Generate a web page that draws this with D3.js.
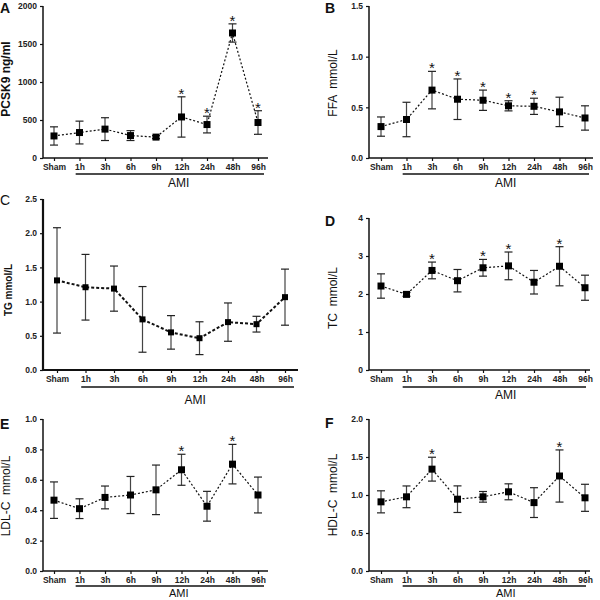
<!DOCTYPE html>
<html><head><meta charset="utf-8">
<script src="https://cdn.jsdelivr.net/npm/d3@7"></script>
<style>body{margin:0;background:#fff}svg{display:block}text{font-family:"Liberation Sans",Arial,sans-serif;white-space:pre}</style>
</head><body>
<svg id="c" width="600" height="600"></svg>
<script>
const categories = ["Sham","1h","3h","6h","9h","12h","24h","48h","96h"];
const groupLabel = "AMI";

const pcsk9Mean = [290,335,380,295,275,540,440,1645,467];
const pcsk9Err  = [120,150,150,65,20,265,110,120,155];
const pcsk9Stars = ["12h","24h","48h","96h"];
const pcsk9Ticks = [0,500,1000,1500,2000];

const ffaMean = [0.31,0.38,0.67,0.58,0.57,0.515,0.51,0.455,0.395];
const ffaErr  = [0.095,0.17,0.185,0.2,0.1,0.05,0.08,0.145,0.12];
const ffaStars = ["3h","6h","9h","12h","24h"];
const ffaTicks = [0,0.5,1.0,1.5];

const tgMean = [1.31,1.21,1.19,0.74,0.55,0.465,0.70,0.67,1.065];
const tgErr  = [0.77,0.48,0.33,0.48,0.245,0.24,0.28,0.115,0.41];
const tgStars = [];
const tgTicks = [0,0.5,1.0,1.5,2.0,2.5];

const tcMean = [2.21,1.99,2.62,2.35,2.69,2.74,2.31,2.73,2.165];
const tcErr  = [0.32,0.05,0.22,0.295,0.22,0.365,0.31,0.515,0.33];
const tcStars = ["3h","9h","12h","48h"];
const tcTicks = [0,1,2,3,4];

const ldlMean = [0.466,0.41,0.484,0.50,0.534,0.666,0.426,0.703,0.50];
const ldlErr  = [0.12,0.065,0.075,0.122,0.163,0.102,0.098,0.13,0.118];
const ldlStars = ["12h","48h"];
const ldlTicks = [0,0.2,0.4,0.6,0.8,1.0];

const hdlMean = [0.91,0.976,1.34,0.945,0.976,1.042,0.90,1.25,0.963];
const hdlErr  = [0.145,0.143,0.157,0.175,0.07,0.105,0.196,0.343,0.178];
const hdlStars = ["3h","48h"];
const hdlTicks = [0,0.5,1.0,1.5,2.0];

const panels = [
  {letter:"A", title:"PCSK9 ng/ml", mean:pcsk9Mean, err:pcsk9Err, stars:pcsk9Stars, ticks:pcsk9Ticks, fmt:d3.format("d"),
   ax:43, axEnd:268, c0:54, c1:258, yTop:6, yBot:158, lx:0, ly:13, tx:10, ty:79, tBold:true, tSize:12,
   amiY:174, amiTextY:187, sq:7, lineW:1.2, dash:"2,2", axisW:1.5, letterBold:true},
  {letter:"B", title:"FFA  mmol/L", mean:ffaMean, err:ffaErr, stars:ffaStars, ticks:ffaTicks, fmt:d3.format(".1f"),
   ax:369, axEnd:593, c0:381, c1:585, yTop:6, yBot:158, lx:325, ly:13, tx:337, ty:83, tBold:false, tSize:12,
   amiY:174, amiTextY:187, sq:7, lineW:1.2, dash:"2,2", axisW:1.5, letterBold:true},
  {letter:"C", title:"TG mmol/L", mean:tgMean, err:tgErr, stars:tgStars, ticks:tgTicks, fmt:d3.format(".1f"),
   ax:43, axEnd:298, c0:57, c1:285, yTop:199, yBot:370, lx:0, ly:205, tx:12, ty:290, tBold:true, tSize:10,
   amiY:387, amiTextY:404, sq:6, lineW:2, dash:"3,2", axisW:2.2, letterBold:false},
  {letter:"D", title:"TC  mmol/L", mean:tcMean, err:tcErr, stars:tcStars, ticks:tcTicks, fmt:d3.format("d"),
   ax:369, axEnd:590, c0:381, c1:585, yTop:218, yBot:370, lx:325, ly:226, tx:337, ty:298, tBold:false, tSize:12,
   amiY:387, amiTextY:399, sq:7, lineW:1.2, dash:"2,2", axisW:1.5, letterBold:true},
  {letter:"E", title:"LDL-C  mmol/L", mean:ldlMean, err:ldlErr, stars:ldlStars, ticks:ldlTicks, fmt:d3.format(".1f"),
   ax:43, axEnd:268, c0:54, c1:258, yTop:419, yBot:571, lx:0, ly:429, tx:10, ty:496, tBold:false, tSize:12,
   amiY:586, amiTextY:597, sq:7, lineW:1.2, dash:"2,2", axisW:1.5, letterBold:true, amiSize:11},
  {letter:"F", title:"HDL-C  mmol/L", mean:hdlMean, err:hdlErr, stars:hdlStars, ticks:hdlTicks, fmt:d3.format(".1f"),
   ax:369, axEnd:590, c0:381, c1:585, yTop:419, yBot:571, lx:325, ly:428, tx:337, ty:495, tBold:false, tSize:12,
   amiY:586, amiTextY:597, sq:7, lineW:1.2, dash:"2,2", axisW:1.5, letterBold:true, amiSize:11}
];

const svg = d3.select("#c");

panels.forEach(p => {
  const g = svg.append("g");
  const x = d3.scalePoint().domain(categories).range([p.c0, p.c1]);
  const ymax = p.ticks[p.ticks.length-1];
  const y = d3.scaleLinear().domain([0, ymax]).range([p.yBot, p.yTop]);
  const data = categories.map((c,i) => ({c, m:p.mean[i], e:p.err[i], star:p.stars.includes(c)}));

  const yAx = g.append("g").attr("transform", `translate(${p.ax},0)`)
    .call(d3.axisLeft(y).tickValues(p.ticks).tickFormat(p.fmt).tickSize(3).tickPadding(3));
  yAx.select(".domain").attr("d", `M0,${p.yTop}V${p.yBot}`).attr("stroke","#111").attr("stroke-width",p.axisW);
  yAx.selectAll(".tick line").attr("stroke","#111").attr("stroke-width",1.2);
  yAx.selectAll(".tick text").attr("font-size",8.5).attr("font-weight","bold").attr("fill","#222")
     .attr("font-family","'Liberation Sans',Arial,sans-serif");

  const xAx = g.append("g").attr("transform", `translate(0,${p.yBot})`)
    .call(d3.axisBottom(x).tickSize(3).tickPadding(3));
  xAx.select(".domain").attr("d", `M${p.ax},0H${p.axEnd}`).attr("stroke","#111").attr("stroke-width",p.axisW);
  xAx.selectAll(".tick line").attr("stroke","#111").attr("stroke-width",1.2);
  xAx.selectAll(".tick text").attr("font-size",8.5).attr("font-weight","bold").attr("fill","#222")
     .attr("font-family","'Liberation Sans',Arial,sans-serif");

  const step = x.step();
  g.append("line").attr("x1", x(categories[1]) - step*0.15).attr("x2", p.axEnd - 4)
    .attr("y1", p.amiY).attr("y2", p.amiY).attr("stroke","#111").attr("stroke-width",1.3);
  g.append("text").attr("x", (x(categories[1]) + x(categories[categories.length-1]))/2 + 10)
    .attr("y", p.amiTextY).attr("text-anchor","middle").attr("font-size",p.amiSize || 12).attr("fill","#111").text(groupLabel);

  g.append("text").attr("transform", `translate(${p.tx},${p.ty}) rotate(-90)`)
    .attr("text-anchor","middle").attr("font-size",p.tSize).attr("font-weight", p.tBold?"bold":"normal")
    .attr("fill","#111").text(p.title);

  g.append("text").attr("x", p.lx).attr("y", p.ly).attr("font-size",14)
    .attr("font-weight", p.letterBold?"bold":"normal").attr("fill","#111").text(p.letter);

  g.append("path").datum(data)
    .attr("d", d3.line().x(d => x(d.c)).y(d => y(d.m)))
    .attr("fill","none").attr("stroke","#111").attr("stroke-width",p.lineW).attr("stroke-dasharray",p.dash);

  const eb = g.selectAll(".eb").data(data).enter().append("g");
  eb.append("line").attr("x1",d=>x(d.c)).attr("x2",d=>x(d.c))
    .attr("y1",d=>y(d.m+d.e)).attr("y2",d=>y(Math.max(0,d.m-d.e))).attr("stroke","#444").attr("stroke-width",1.2);
  eb.append("line").attr("x1",d=>x(d.c)-4).attr("x2",d=>x(d.c)+4)
    .attr("y1",d=>y(d.m+d.e)).attr("y2",d=>y(d.m+d.e)).attr("stroke","#222").attr("stroke-width",1.2);
  eb.append("line").attr("x1",d=>x(d.c)-4).attr("x2",d=>x(d.c)+4)
    .attr("y1",d=>y(Math.max(0,d.m-d.e))).attr("y2",d=>y(Math.max(0,d.m-d.e))).attr("stroke","#222").attr("stroke-width",1.2);

  g.selectAll(".sq").data(data).enter().append("rect")
    .attr("x",d=>x(d.c)-p.sq/2).attr("y",d=>y(d.m)-p.sq/2).attr("width",p.sq).attr("height",p.sq).attr("fill","#000");

  g.selectAll(".st").data(data.filter(d=>d.star)).enter().append("text")
    .attr("x",d=>x(d.c)).attr("y",d=>y(d.m+d.e)+2).attr("text-anchor","middle")
    .attr("font-size",15).attr("fill","#111").text("*");
});
</script>
</body></html>
